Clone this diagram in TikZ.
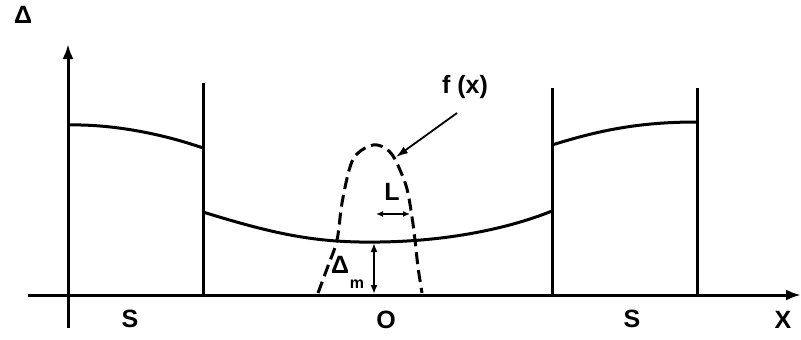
\documentclass[tikz,border=0pt]{standalone}
\usepackage{fontspec}
\setmainfont{Liberation Sans}
\usetikzlibrary{arrows.meta}
\begin{document}
\begin{tikzpicture}[x=1pt,y=-1pt,
  ln/.style={line width=3pt},
  lbl/.style={font=\bfseries\fontsize{25}{27}\selectfont, inner sep=0pt},
  dsh/.style={line width=3pt, dash pattern=on 12pt off 6pt},
  axarrow/.style={-{Latex[length=15pt,width=11pt]}}]
\useasboundingbox (0,0) rectangle (801,340);
% axes
\coordinate (yb) at (68,328); \coordinate (yt) at (68,44);
\coordinate (xl) at (28,295); \coordinate (xr) at (801,295);
\draw[ln,axarrow] (yb) -- (yt);
\draw[ln,axarrow] (xl) -- (xr);
% walls
\coordinate (w1t) at (203,83); \coordinate (w1b) at (203,295);
\coordinate (w2t) at (552,88); \coordinate (w2b) at (552,295);
\coordinate (w3t) at (697,88); \coordinate (w3b) at (697,295);
\draw[ln] (w1t) -- (w1b);
\draw[ln] (w2t) -- (w2b);
\draw[ln] (w3t) -- (w3b);
% level curves
\draw[ln] (68,125) .. controls (110,124) and (160,133) .. (203,148);
\draw[ln] (203,212) .. controls (280,236) and (320,243) .. (380,242) .. controls (450,241) and (510,228) .. (552,211);
\draw[ln] (552,145) .. controls (600,130) and (640,122) .. (697,122);
% f(x) dashed
\draw[dsh] plot[smooth,tension=0.6] coordinates {(318,293) (328,266) (337,240) (342,203) (350,167) (358,153) (373,145) (385,148) (393,156) (400,170) (407,189) (412,217) (415,240) (418,267) (422,293)};
% labels
\node[lbl] (delta) at (23,15) {Δ};
\node[lbl] (fx) at (465,87) {f (x)};
\coordinate (fxs) at (457,113); \coordinate (fxe) at (396,157);
\draw[line width=1.8pt,-{Latex[length=12pt,width=8pt]}] (fxs) -- (fxe);
\node[lbl] (L) at (392,192) {L};
\coordinate (la) at (376,214); \coordinate (lb) at (410,214);
\draw[line width=2.2pt,{Latex[length=7pt,width=6pt]}-{Latex[length=7pt,width=6pt]}] (la) -- (lb);
\coordinate (dma) at (374,243); \coordinate (dmb) at (374,294);
\draw[line width=2pt,{Latex[length=9pt,width=7pt]}-{Latex[length=9pt,width=7pt]}] (dma) -- (dmb);
\node[lbl] (dm) at (340,265) {Δ};
\node[font=\bfseries\fontsize{16}{18}\selectfont, inner sep=0pt] (m) at (357,284) {m};
\node[lbl] (s1) at (130,319) {S};
\node[lbl] (o) at (386,320) {O};
\node[lbl] (s2) at (632,319) {S};
\node[lbl] (X) at (783,320) {X};
\end{tikzpicture}
\end{document}
